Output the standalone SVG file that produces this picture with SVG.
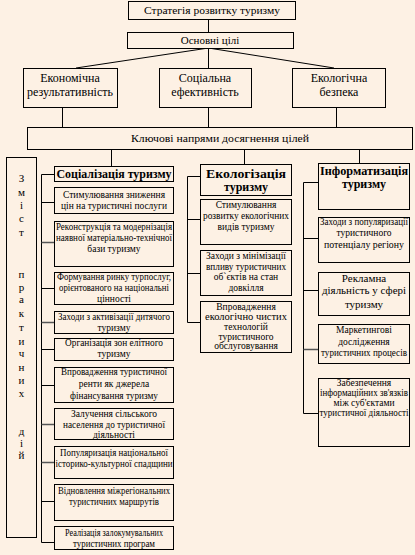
<svg xmlns="http://www.w3.org/2000/svg" width="415" height="555" viewBox="0 0 415 555" font-family="'Liberation Serif', 'Times New Roman', serif">
<style>
.bg{fill:#fdf1e4}
.b{fill:#fdf1e4;stroke:#000;stroke-width:1}
.c{stroke:#000;stroke-width:1;fill:none}
.g{stroke:#555;stroke-width:1.5;fill:none}
text{fill:#000;text-anchor:middle}
.t11{font-size:11px}
.t12{font-size:12px}
.s{font-size:9.5px}
.h{font-size:12px;font-weight:bold}
.v{font-size:11px}
</style>
<rect class="bg" x="0" y="0" width="415" height="555"/>
<g id="connectors">
<line class="c" x1="208.5" y1="19" x2="208.5" y2="32"/>
<line class="c" x1="208.5" y1="48" x2="76" y2="68"/>
<line class="c" x1="208.5" y1="48" x2="208.5" y2="68"/>
<line class="c" x1="208.5" y1="48" x2="334" y2="68"/>
<line class="c" x1="62.5" y1="107" x2="62.5" y2="127"/>
<line class="c" x1="208.5" y1="107" x2="208.5" y2="127"/>
<line class="c" x1="336.5" y1="107" x2="336.5" y2="127"/>
<line class="c" x1="111.5" y1="149" x2="111.5" y2="166"/>
<line class="c" x1="244.5" y1="149" x2="244.5" y2="164"/>
<line class="c" x1="359.5" y1="149" x2="359.5" y2="163"/>
<polyline class="c" points="54,174.5 41.5,174.5 41.5,542.5 54,542.5"/>
<line class="c" x1="41.5" y1="202.5" x2="54" y2="202.5"/>
<line class="g" x1="41.5" y1="242.5" x2="54" y2="242.5"/>
<line class="c" x1="41.5" y1="288.5" x2="54" y2="288.5"/>
<line class="g" x1="41.5" y1="322.5" x2="54" y2="322.5"/>
<line class="c" x1="41.5" y1="349.5" x2="54" y2="349.5"/>
<line class="c" x1="41.5" y1="385.5" x2="54" y2="385.5"/>
<line class="g" x1="41.5" y1="424.5" x2="54" y2="424.5"/>
<line class="g" x1="41.5" y1="462.5" x2="54" y2="462.5"/>
<line class="c" x1="41.5" y1="501.5" x2="54" y2="501.5"/>
<polyline class="c" points="200,176.5 187.5,176.5 187.5,322.5 200,322.5"/>
<line class="c" x1="187.5" y1="219.5" x2="200" y2="219.5"/>
<line class="c" x1="187.5" y1="273.5" x2="200" y2="273.5"/>
<polyline class="c" points="318,182.5 303.5,182.5 303.5,413.5 318,413.5"/>
<line class="c" x1="303.5" y1="238.5" x2="318" y2="238.5"/>
<line class="c" x1="303.5" y1="290.5" x2="318" y2="290.5"/>
<line class="g" x1="303.5" y1="349.5" x2="318" y2="349.5"/>
</g>
<g id="strategy"><rect class="b" x="128.5" y="1.5" width="167" height="18"/><text class="t11" x="212" y="14" textLength="136" lengthAdjust="spacingAndGlyphs">Стратегія розвитку туризму</text></g>
<g id="goals"><rect class="b" x="127.5" y="32.5" width="166" height="16"/><text class="t11" x="210" y="44">Основні цілі</text></g>
<g id="econ"><rect class="b" x="23.5" y="68.5" width="94" height="39"/><text class="t12" x="70" y="82">Економічна</text><text class="t12" x="70" y="96" textLength="86" lengthAdjust="spacingAndGlyphs">результативність</text></g>
<g id="social"><rect class="b" x="159.5" y="68.5" width="92" height="39"/><text class="t12" x="205" y="82">Соціальна</text><text class="t12" x="205" y="96">ефективність</text></g>
<g id="ecosafe"><rect class="b" x="292.5" y="68.5" width="93" height="39"/><text class="t12" x="339" y="82">Екологічна</text><text class="t12" x="339" y="96">безпека</text></g>
<g id="key"><rect class="b" x="27.5" y="127.5" width="385" height="22"/><text class="t11" x="220" y="142" textLength="178" lengthAdjust="spacingAndGlyphs">Ключові напрями досягнення цілей</text></g>
<g id="content"><rect class="b" x="6.5" y="157.5" width="30" height="380"/>
<text class="v" x="21.5" y="182">З</text><text class="v" x="21.5" y="196">м</text><text class="v" x="21.5" y="209">і</text><text class="v" x="21.5" y="222">с</text><text class="v" x="21.5" y="236">т</text>
<text class="v" x="21.5" y="278">п</text><text class="v" x="21.5" y="291">р</text><text class="v" x="21.5" y="303">а</text><text class="v" x="21.5" y="317">к</text><text class="v" x="21.5" y="331">т</text><text class="v" x="21.5" y="345">и</text><text class="v" x="21.5" y="357">ч</text><text class="v" x="21.5" y="371">н</text><text class="v" x="21.5" y="384">и</text><text class="v" x="21.5" y="397">х</text>
<text class="v" x="21.5" y="435">д</text><text class="v" x="21.5" y="447">і</text><text class="v" x="21.5" y="459">й</text>
</g>
<g id="socialization"><rect class="b" x="54.5" y="166.5" width="119" height="15"/><text class="h" x="114" y="178" textLength="115" lengthAdjust="spacingAndGlyphs">Соціалізація туризму</text></g>
<g id="s1"><rect class="b" x="54.5" y="187.5" width="119" height="26"/><text class="s" x="114" y="198" textLength="102" lengthAdjust="spacingAndGlyphs">Стимулювання зниження</text><text class="s" x="114" y="209" textLength="106" lengthAdjust="spacingAndGlyphs">цін на туристичні послуги</text></g>
<g id="s2"><rect class="b" x="54.5" y="221.5" width="119" height="45"/><text class="s" x="114" y="230" textLength="116" lengthAdjust="spacingAndGlyphs">Реконструкція та модернізація</text><text class="s" x="114" y="241" textLength="116" lengthAdjust="spacingAndGlyphs">наявної матеріально-технічної</text><text class="s" x="114" y="252">бази туризму</text></g>
<g id="s3"><rect class="b" x="54.5" y="272.5" width="119" height="32"/><text class="s" x="114" y="280" textLength="114" lengthAdjust="spacingAndGlyphs">Формування ринку турпослуг,</text><text class="s" x="114" y="291" textLength="110" lengthAdjust="spacingAndGlyphs">орієнтованого на національні</text><text class="s" x="114" y="302">цінності</text></g>
<g id="s4"><rect class="b" x="54.5" y="311.5" width="119" height="22"/><text class="s" x="114" y="320" textLength="112" lengthAdjust="spacingAndGlyphs">Заходи з активізації дитячого</text><text class="s" x="114" y="331">туризму</text></g>
<g id="s5"><rect class="b" x="54.5" y="338.5" width="119" height="22"/><text class="s" x="114" y="346" textLength="98" lengthAdjust="spacingAndGlyphs">Організація зон елітного</text><text class="s" x="114" y="357">туризму</text></g>
<g id="s6"><rect class="b" x="54.5" y="367.5" width="119" height="35"/><text class="s" x="114" y="375" textLength="106" lengthAdjust="spacingAndGlyphs">Впровадження туристичної</text><text class="s" x="114" y="387">ренти як джерела</text><text class="s" x="114" y="399" textLength="88" lengthAdjust="spacingAndGlyphs">фінансування туризму</text></g>
<g id="s7"><rect class="b" x="54.5" y="408.5" width="119" height="31"/><text class="s" x="114" y="417">Залучення сільського</text><text class="s" x="114" y="428" textLength="102" lengthAdjust="spacingAndGlyphs">населення до туристичної</text><text class="s" x="114" y="438">діяльності</text></g>
<g id="s8"><rect class="b" x="54.5" y="446.5" width="119" height="32"/><text class="s" x="114" y="456" textLength="108" lengthAdjust="spacingAndGlyphs">Популяризація національної</text><text class="s" x="114" y="467" textLength="117" lengthAdjust="spacingAndGlyphs">історико-культурної спадщини</text></g>
<g id="s9"><rect class="b" x="54.5" y="484.5" width="119" height="36"/><text class="s" x="114" y="494" textLength="112" lengthAdjust="spacingAndGlyphs">Відновлення міжрегіональних</text><text class="s" x="114" y="505" textLength="90" lengthAdjust="spacingAndGlyphs">туристичних маршрутів</text></g>
<g id="s10"><rect class="b" x="54.5" y="526.5" width="119" height="23"/><text class="s" x="114" y="536" textLength="98" lengthAdjust="spacingAndGlyphs">Реалізація залокумувальних</text><text class="s" x="114" y="547" textLength="82" lengthAdjust="spacingAndGlyphs">туристичних програм</text></g>
<g id="ecologization"><rect class="b" x="200.5" y="164.5" width="91" height="31"/><text class="h" x="246" y="178" textLength="80" lengthAdjust="spacingAndGlyphs">Екологізація</text><text class="h" x="246" y="191">туризму</text></g>
<g id="e1"><rect class="b" x="200.5" y="199.5" width="91" height="45"/><text class="s" x="246" y="208">Стимулювання</text><text class="s" x="246" y="219" textLength="86" lengthAdjust="spacingAndGlyphs">розвитку екологічних</text><text class="s" x="246" y="230">видів туризму</text></g>
<g id="e2"><rect class="b" x="200.5" y="250.5" width="91" height="45"/><text class="s" x="246" y="259" textLength="80" lengthAdjust="spacingAndGlyphs">Заходи з мінімізації</text><text class="s" x="246" y="270" textLength="80" lengthAdjust="spacingAndGlyphs">впливу туристичних</text><text class="s" x="246" y="280">об`єктів на стан</text><text class="s" x="246" y="291">довкілля</text></g>
<g id="e3"><rect class="b" x="200.5" y="301.5" width="91" height="51"/><text class="s" x="246" y="310">Впровадження</text><text class="s" x="246" y="320" textLength="82" lengthAdjust="spacingAndGlyphs">екологічно чистих</text><text class="s" x="246" y="330">технологій</text><text class="s" x="246" y="340">туристичного</text><text class="s" x="246" y="349">обслуговування</text></g>
<g id="informatization"><rect class="b" x="318.5" y="163.5" width="91" height="46"/><text class="h" x="364" y="175" textLength="88" lengthAdjust="spacingAndGlyphs">Інформатизація</text><text class="h" x="364" y="188">туризму</text></g>
<g id="i1"><rect class="b" x="318.5" y="217.5" width="91" height="45"/><text class="s" x="364" y="225" textLength="88" lengthAdjust="spacingAndGlyphs">Заходи з популяризації</text><text class="s" x="364" y="236">туристичного</text><text class="s" x="364" y="248" textLength="80" lengthAdjust="spacingAndGlyphs">потенціалу регіону</text></g>
<g id="i2"><rect class="b" x="318.5" y="272.5" width="91" height="43"/><text class="t11" x="364" y="282">Рекламна</text><text class="t11" x="364" y="294" textLength="84" lengthAdjust="spacingAndGlyphs">діяльність у сфері</text><text class="t11" x="364" y="308">туризму</text></g>
<g id="i3"><rect class="b" x="318.5" y="324.5" width="91" height="39"/><text class="s" x="364" y="333">Маркетингові</text><text class="s" x="364" y="345">дослідження</text><text class="s" x="364" y="356" textLength="86" lengthAdjust="spacingAndGlyphs">туристичних процесів</text></g>
<g id="i4"><rect class="b" x="318.5" y="378.5" width="91" height="68"/><text class="s" x="364" y="386">Забезпечення</text><text class="s" x="364" y="396" textLength="88" lengthAdjust="spacingAndGlyphs">інформаційних зв'язків</text><text class="s" x="364" y="406">між суб'єктами</text><text class="s" x="364" y="416" textLength="89" lengthAdjust="spacingAndGlyphs">туристичної діяльності</text></g>
</svg>
